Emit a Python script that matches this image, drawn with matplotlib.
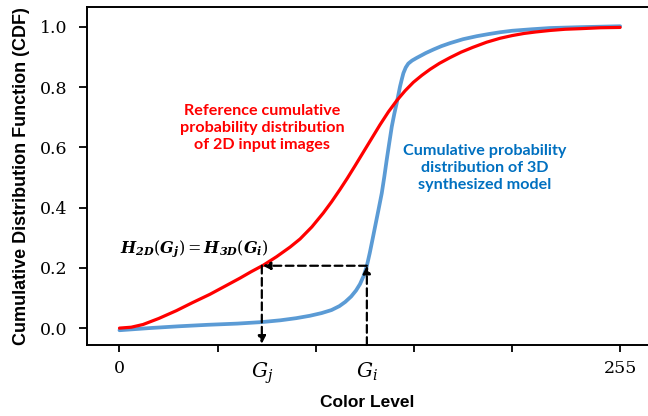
import matplotlib
matplotlib.use("Agg")
from matplotlib import pyplot as plt

plt.rcParams['mathtext.fontset'] = 'dejavuserif'

# reference CDF of the 2D input images
red_x = [0, 6, 12, 20, 29, 37, 46, 54, 61.4, 67, 73.3, 80, 86.9, 92, 98, 103.8, 108, 112.3,
         116, 120, 124.2, 128.5, 132.7, 137, 141.2, 145.5, 149.7, 154, 158.2, 163, 168.4, 174,
         180, 187, 193.8, 200, 206, 212, 219.3, 227, 235, 245, 255]
red_y = [0, 0.003, 0.012, 0.032, 0.058, 0.084, 0.112, 0.14, 0.166, 0.187, 0.209, 0.237, 0.269,
         0.296, 0.336, 0.382, 0.419, 0.46, 0.497, 0.539, 0.584, 0.63, 0.675, 0.718, 0.755, 0.788,
         0.816, 0.839, 0.859, 0.879, 0.898, 0.916, 0.932, 0.949, 0.962, 0.971, 0.978, 0.983,
         0.988, 0.992, 0.994, 0.997, 0.998]

# CDF of the 3D synthesized model
blue_x = [0, 15, 30, 45, 60, 72.4, 82, 90, 97, 103, 108, 112, 115, 118, 120.5, 122.5, 124.3,
          125.9, 127.5, 129, 130.2, 131.9, 133.6, 134.9, 136.1, 137.4, 138.7, 140, 141.2, 142.1,
          142.9, 143.8, 144.6, 145.8, 147.1, 149, 151.4, 154, 156, 160, 164, 168.4, 175, 182,
          188, 193.8, 200, 210, 219.3, 235, 255]
blue_y = [-0.007, 0.0, 0.006, 0.011, 0.015, 0.02, 0.026, 0.033, 0.041, 0.05, 0.06, 0.073, 0.087,
          0.105, 0.125, 0.146, 0.172, 0.204, 0.25, 0.298, 0.337, 0.392, 0.448, 0.503, 0.558,
          0.614, 0.669, 0.712, 0.747, 0.776, 0.802, 0.826, 0.846, 0.865, 0.878, 0.888, 0.897,
          0.906, 0.913, 0.925, 0.936, 0.946, 0.959, 0.969, 0.976, 0.982, 0.987, 0.992, 0.996,
          0.999, 1.002]

g_j = 72.5
g_i = 126
h_level = 0.207

x_ticks = [0, 50, 100, 150, 200, 255]
x_tick_labels = ['0', '', '', '', '', '255']
y_ticks = [0.0, 0.2, 0.4, 0.6, 0.8, 1.0]

fig = plt.figure(figsize=(6.48, 4.16), dpi=100)
ax = fig.add_axes([0.1347, 0.1707, 0.8653, 0.8133])

ax.plot(red_x, red_y, color='#FF0000', lw=2.3, solid_capstyle='round',
        solid_joinstyle='round', zorder=3)
ax.plot(blue_x, blue_y, color='#5B9BD5', lw=2.7, solid_capstyle='round',
        solid_joinstyle='round', zorder=2)

ymin, ymax = -0.056, 1.067
ax.set_xlim(-16.4, 269.2)
ax.set_ylim(ymin, ymax)

# mapping arrows G_i -> H -> G_j
arrow = dict(arrowstyle='-|>', color='black', lw=1.6, linestyle=(0, (3.5, 2)),
             mutation_scale=11, shrinkA=0, shrinkB=0)
ax.annotate('', xy=(g_i, h_level), xytext=(g_i, ymin), arrowprops=arrow)
ax.annotate('', xy=(g_j + 0.5, h_level), xytext=(g_i, h_level), arrowprops=arrow)
ax.annotate('', xy=(g_j, ymin + 0.004), xytext=(g_j, h_level), arrowprops=arrow)

ax.text(0.3, 0.265, r'$\mathbfit{H}_{\mathbfit{2D}}\left(\mathbfit{G}_{\mathbfit{j}}\right)'
        r' = \mathbfit{H}_{\mathbfit{3D}}\left(\mathbfit{G}_{\mathbfit{i}}\right)$',
        fontsize=11.5, ha='left', va='center')

ax.text(72.6, 0.664, 'Reference cumulative\nprobability distribution\nof 2D input images',
        color='#FF0000', fontsize=11.6, fontweight='bold', family='Lato',
        ha='center', va='center', linespacing=1.25)
ax.text(186.2, 0.531, 'Cumulative probability\ndistribution of 3D\nsynthesized model',
        color='#0070C0', fontsize=11.6, fontweight='bold', family='Lato',
        ha='center', va='center', linespacing=1.25)

ax.set_xticks(x_ticks)
ax.set_xticklabels(x_tick_labels)
ax.set_xticks([g_j, g_i], minor=True)
ax.set_xticklabels([r'$G_j$', r'$G_i$'], minor=True)
ax.set_yticks(y_ticks)
ax.set_yticklabels(['%.1f' % v for v in y_ticks])

for lab in ax.get_xticklabels() + ax.get_yticklabels():
    lab.set_family('DejaVu Serif')
ax.tick_params(axis='x', which='major', length=5, width=1.3, pad=6, labelsize=12.5)
ax.tick_params(axis='x', which='minor', length=0, pad=11, labelsize=14.5)
ax.tick_params(axis='y', length=6, width=1.3, pad=8, labelsize=12.5)

ax.spines['right'].set_visible(False)
for s in ['left', 'top', 'bottom']:
    ax.spines[s].set_linewidth(1.4)

ax.set_xlabel('Color Level', family='Liberation Sans', fontweight='bold', fontsize=12.5, labelpad=7)
ax.set_ylabel('Cumulative Distribution Function (CDF)', family='Liberation Sans',
              fontweight='bold', fontsize=13, labelpad=7)

fig.savefig('out.png', dpi=100)
